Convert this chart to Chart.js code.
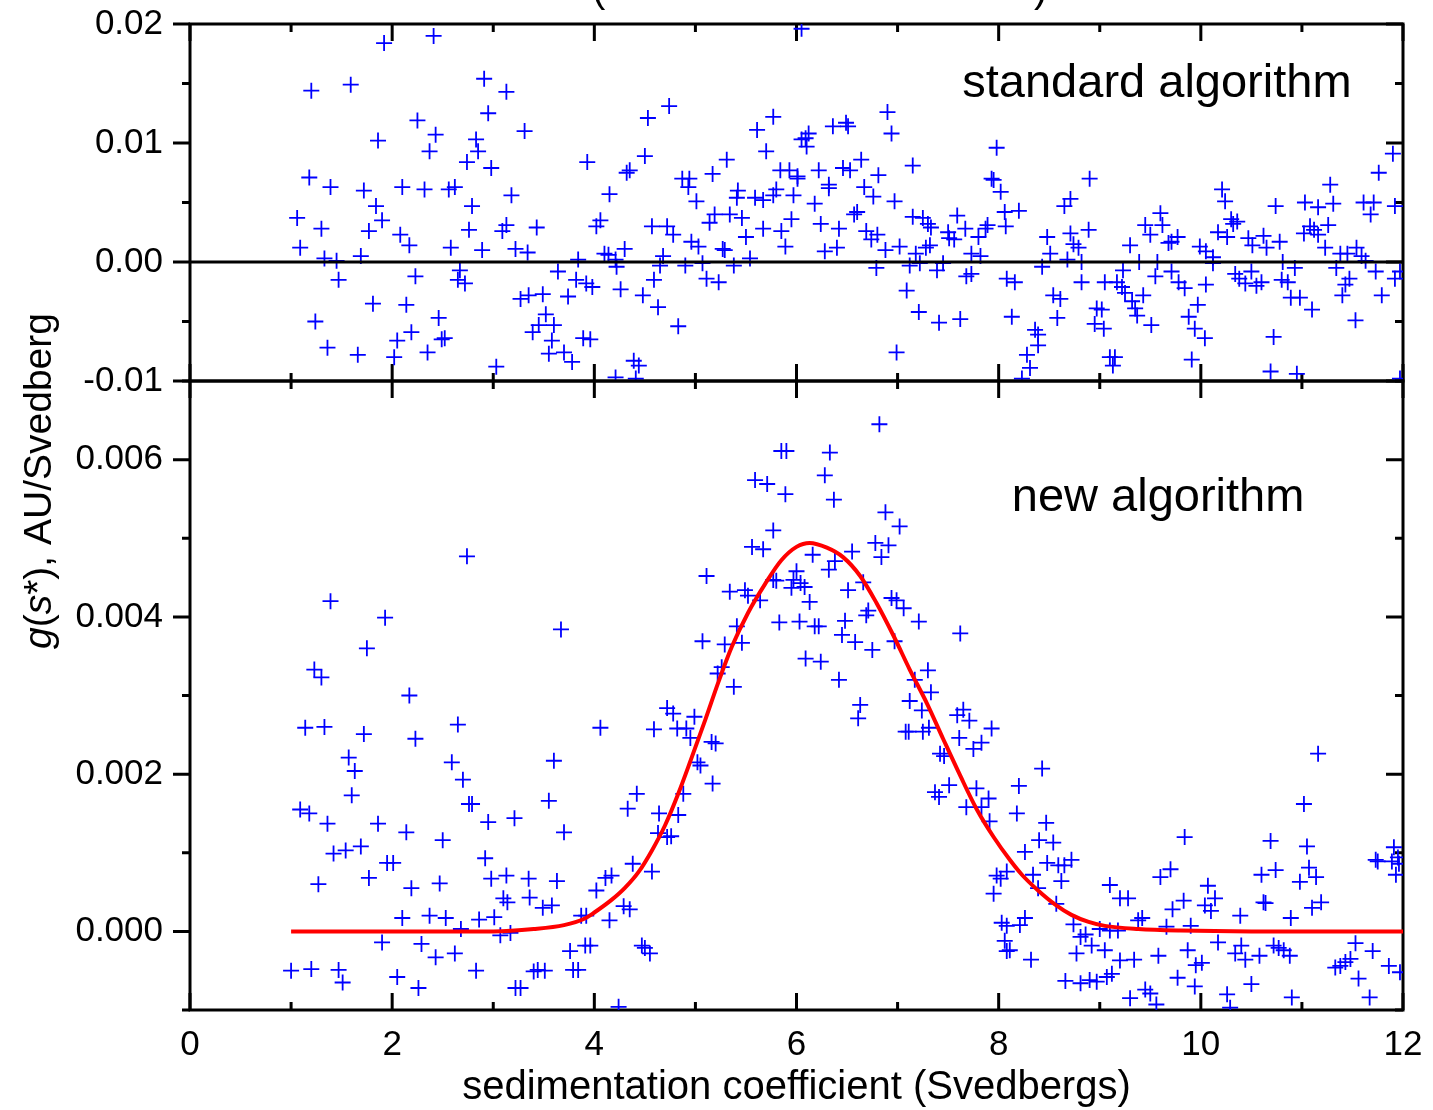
<!DOCTYPE html>
<html>
<head>
<meta charset="utf-8">
<title>g(s*) distributions</title>
<script src="https://cdn.jsdelivr.net/npm/chart.js@4.4.1/dist/chart.umd.min.js"></script>
<style>
  html, body { margin: 0; padding: 0; background: #fff; }
  #wrap { position: relative; width: 1433px; height: 1110px; }
  #wrap canvas { position: absolute; left: 0; top: 0; }
</style>
</head>
<body>
<div id="wrap">
  <canvas id="topChart" width="1433" height="1110"></canvas>
  <canvas id="bottomChart" width="1433" height="1110"></canvas>
</div>
<script>
// sedimentation coefficient ticks (Svedbergs); labels only on even values
const sTicks = [0, 1, 2, 3, 4, 5, 6, 7, 8, 9, 10, 11, 12];

// standard algorithm: g(s*) scatter
const topX = [
  1.92, 2.41, 1.20, 1.59, 2.91, 2.95, 2.25, 2.43, 1.86, 2.37,
  2.83, 2.85, 2.74, 2.98, 1.18, 1.39, 1.72, 2.10, 2.32, 2.56,
  2.62, 1.84, 2.79, 1.06, 1.90, 1.30, 1.77, 2.08, 2.76, 2.17,
  1.09, 2.58, 2.89, 1.33, 1.45, 1.69, 2.67, 1.47, 2.23, 2.65,
  2.72, 1.81, 2.14, 1.24, 2.46, 2.19, 2.05, 2.52, 2.49, 1.36,
  1.66, 2.02, 2.35, 3.03,
  3.13, 3.31, 3.93, 3.18, 4.53, 4.74, 4.50, 4.35, 4.32, 4.15,
  5.61, 5.77, 5.70, 5.31, 5.17, 4.87, 4.94, 4.93, 5.01, 5.84,
  5.93, 6.01, 5.42, 5.41, 5.59, 5.67, 5.77, 5.80, 5.97, 4.06,
  4.02, 3.13, 3.09, 3.43, 4.57, 4.72, 4.78, 5.14, 5.19, 5.34,
  5.46, 5.50, 5.67, 5.85, 5.95, 5.89, 4.96, 5.03, 3.22, 3.34,
  4.30, 4.10, 4.14, 4.21, 3.84, 4.68, 5.27, 5.29, 5.54, 4.65,
  4.90, 5.07, 5.38, 3.64, 4.22, 3.82, 3.92, 3.98, 4.59, 5.11,
  5.23, 4.26, 4.48, 3.27, 3.35, 3.49, 3.74, 4.63, 3.52, 3.45,
  3.60, 3.39, 4.83, 3.58, 3.89, 3.96, 3.55, 3.70, 3.78, 4.39,
  4.44, 4.21, 4.41,
  6.05, 6.90, 6.94, 6.36, 6.49, 6.51, 6.12, 6.09, 6.05, 6.10,
  7.98, 6.01, 6.22, 6.46, 6.53, 6.64, 6.81, 7.15, 6.32, 6.32,
  6.67, 6.76, 6.18, 7.93, 7.95, 8.02, 6.97, 8.90, 8.71, 8.65,
  8.06, 8.20, 6.60, 6.57, 7.15, 7.59, 6.24, 6.42, 7.25, 7.30,
  7.33, 7.89, 7.87, 8.07, 7.50, 7.67, 7.80, 6.69, 6.80, 6.74,
  7.51, 7.56, 7.32, 8.71, 8.89, 8.48, 8.74, 8.79, 6.28, 6.40,
  6.88, 7.02, 7.18, 7.28, 7.73, 7.82, 8.51, 8.68, 8.82, 6.79,
  7.12, 7.22, 7.39, 7.45, 7.68, 7.73, 8.43, 8.08, 8.16, 8.82,
  7.09, 8.54, 8.61, 7.21, 7.41, 7.62, 8.13, 8.58, 8.97, 8.95,
  8.36, 8.39, 8.39, 8.28, 8.31, 6.99, 8.23,
  11.90, 11.76, 10.21, 10.24, 11.28, 10.74, 11.03, 11.16, 11.31, 11.61,
  11.71, 11.68, 11.92, 9.60, 9.45, 9.62, 9.50, 10.30, 10.36, 10.32,
  10.17, 10.26, 9.77, 9.71, 9.68, 9.30, 11.08, 11.02, 11.12, 11.16,
  11.26, 11.23, 10.47, 10.51, 10.62, 10.65, 10.78, 9.99, 10.05, 10.12,
  10.12, 11.38, 11.45, 11.54, 11.59, 11.63, 9.39, 9.57, 10.81, 11.34,
  10.93, 9.23, 9.55, 9.71, 9.78, 9.84, 10.05, 10.34, 10.38, 10.44,
  10.50, 10.55, 10.60, 10.80, 10.86, 10.89, 10.98, 11.10, 11.47, 11.43,
  11.40, 11.73, 11.79, 11.92, 11.97, 11.53, 9.05, 9.17, 9.22, 9.25,
  9.32, 9.43, 9.35, 9.37, 9.51, 9.02, 9.04, 9.88, 9.97, 9.94,
  10.04, 10.72, 9.91, 9.10, 9.15, 9.13, 10.69, 10.95, 11.97
];
const topY = [
  0.0184, 0.0190, 0.0144, 0.0149, 0.0154, 0.0125, 0.0119, 0.0107, 0.0102, 0.0093,
  0.0103, 0.0093, 0.0084, 0.0079, 0.0071, 0.0063, 0.0060, 0.0063, 0.0061, 0.0061,
  0.0063, 0.0047, 0.0047, 0.0037, 0.0035, 0.0028, 0.0026, 0.0023, 0.0027, 0.0014,
  0.0012, 0.0012, 0.0010, 0.0003, 0.0001, 0.0005, -0.0007, -0.0015, -0.0012, -0.0015,
  -0.0018, -0.0035, -0.0036, -0.0050, -0.0047, -0.0059, -0.0066, -0.0064, -0.0065, -0.0072,
  -0.0078, -0.0080, -0.0076, -0.0088,
  0.0143, 0.0110, 0.0084, 0.0056, 0.0121, 0.0131, 0.0089, 0.0077, 0.0075, 0.0057,
  0.0111, 0.0122, 0.0093, 0.0086, 0.0074, 0.0070, 0.0070, 0.0063, 0.0051, 0.0077,
  0.0077, 0.0070, 0.0060, 0.0054, 0.0054, 0.0052, 0.0056, 0.0061, 0.0056, 0.0035,
  0.0030, 0.0031, 0.0026, 0.0029, 0.0030, 0.0030, 0.0023, 0.0033, 0.0040, 0.0040,
  0.0037, 0.0021, 0.0028, 0.0026, 0.0036, 0.0013, 0.0017, 0.0013, 0.0011, 0.0008,
  0.0011, 0.0007, 0.0006, 0.0002, 0.0002, 0.0005, 0.0011, 0.0010, 0.0003, -0.0003,
  -0.0003, -0.0001, -0.0003, -0.0008, -0.0004, -0.0015, -0.0018, -0.0021, -0.0015, -0.0014,
  -0.0017, -0.0023, -0.0028, -0.0031, -0.0028, -0.0027, -0.0029, -0.0038, -0.0044, -0.0053,
  -0.0053, -0.0059, -0.0054, -0.0066, -0.0064, -0.0065, -0.0077, -0.0076, -0.0084, -0.0083,
  -0.0087, -0.0097, -0.0098,
  0.0196, 0.0126, 0.0108, 0.0114, 0.0117, 0.0114, 0.0108, 0.0104, 0.0103, 0.0097,
  0.0096, 0.0072, 0.0077, 0.0079, 0.0077, 0.0086, 0.0073, 0.0081, 0.0065, 0.0062,
  0.0063, 0.0055, 0.0049, 0.0070, 0.0069, 0.0059, 0.0051, 0.0070, 0.0053, 0.0047,
  0.0042, 0.0043, 0.0042, 0.0040, 0.0038, 0.0039, 0.0032, 0.0028, 0.0037, 0.0032,
  0.0029, 0.0031, 0.0028, 0.0030, 0.0025, 0.0028, 0.0021, 0.0026, 0.0023, 0.0019,
  0.0020, 0.0019, 0.0014, 0.0024, 0.0027, 0.0021, 0.0015, 0.0012, 0.0009, 0.0012,
  0.0010, 0.0013, 0.0007, 0.0012, 0.0007, 0.0005, 0.0007, 0.0002, 0.0000, -0.0005,
  -0.0003, -0.0001, -0.0007, -0.0001, -0.0012, -0.0010, -0.0004, -0.0014, -0.0017, -0.0017,
  -0.0024, -0.0028, -0.0031, -0.0042, -0.0051, -0.0048, -0.0046, -0.0047, -0.0039, -0.0052,
  -0.0057, -0.0061, -0.0070, -0.0078, -0.0089, -0.0076, -0.0098,
  0.0091, 0.0075, 0.0061, 0.0051, 0.0065, 0.0047, 0.0050, 0.0046, 0.0049, 0.0050,
  0.0050, 0.0040, 0.0047, 0.0041, 0.0031, 0.0031, 0.0023, 0.0036, 0.0034, 0.0032,
  0.0025, 0.0021, 0.0021, 0.0017, 0.0016, 0.0014, 0.0030, 0.0024, 0.0027, 0.0023,
  0.0031, 0.0012, 0.0020, 0.0014, 0.0022, 0.0012, 0.0017, 0.0013, 0.0009, 0.0004,
  -0.0001, 0.0007, 0.0007, 0.0012, 0.0005, 0.0001, 0.0000, 0.0000, 0.0000, -0.0005,
  -0.0005, -0.0007, -0.0012, -0.0008, -0.0017, -0.0022, -0.0019, -0.0010, -0.0014, -0.0018,
  -0.0008, -0.0020, -0.0017, -0.0015, -0.0017, -0.0030, -0.0030, -0.0040, -0.0014, -0.0019,
  -0.0028, -0.0008, -0.0028, -0.0014, -0.0008, -0.0049, -0.0017, -0.0017, -0.0021, -0.0026,
  -0.0033, -0.0028, -0.0039, -0.0045, -0.0053, -0.0040, -0.0056, -0.0046, -0.0036, -0.0056,
  -0.0064, -0.0063, -0.0082, -0.0080, -0.0080, -0.0087, -0.0092, -0.0094, -0.0098
];

// new algorithm: g(s*) scatter
const botX = [
  2.74, 1.39, 1.93, 1.75, 1.23, 1.30, 2.17, 1.14, 1.33, 1.72,
  2.23, 2.65, 1.57, 1.63, 2.59, 2.70, 1.60, 2.76, 2.79, 1.09,
  1.18, 1.36, 1.86, 2.14, 2.50, 2.95, 3.21, 1.42, 1.54, 1.69,
  1.95, 2.01, 2.92, 1.27, 1.77, 2.19, 2.47, 2.98, 3.13, 3.10,
  3.14, 2.10, 2.37, 2.53, 2.86, 3.01, 2.68, 3.07, 3.17, 1.90,
  2.29, 2.43, 2.62, 1.00, 1.20, 1.47, 1.51, 2.05, 2.26, 2.83,
  3.22,
  5.59, 5.56, 5.11, 5.34, 5.49, 5.52, 5.64, 3.67, 5.07, 5.29,
  5.41, 5.46, 5.26, 5.22, 5.38, 4.72, 4.78, 4.59, 4.82, 4.99,
  4.91, 4.95, 4.06, 5.16, 5.20, 5.02, 5.05, 5.17, 3.60, 3.55,
  3.70, 4.88, 4.42, 4.33, 4.64, 4.83, 4.63, 4.72, 4.76, 4.38,
  4.57, 3.35, 3.63, 3.36, 3.49, 3.58, 4.02, 4.11, 4.17, 3.87,
  3.92, 4.15, 4.29, 4.35, 3.76, 3.91, 3.96, 4.47, 4.50, 4.55,
  3.40, 3.44, 3.51, 3.79, 3.84, 3.27, 4.24,
  6.82, 5.85, 5.90, 6.33, 6.28, 6.37, 5.71, 5.89, 6.88, 7.02,
  5.77, 6.78, 6.91, 6.84, 5.67, 6.16, 6.55, 6.38, 6.32, 6.00,
  5.77, 5.80, 5.97, 6.04, 5.95, 6.08, 6.13, 6.51, 6.66, 6.71,
  6.69, 6.94, 6.99, 7.06, 7.21, 5.83, 6.03, 6.18, 6.22, 6.48,
  6.45, 6.58, 6.75, 6.97, 7.62, 6.09, 6.24, 6.42, 7.30, 7.17,
  7.33, 7.12, 7.24, 6.63, 6.61, 7.59, 7.65, 7.71, 7.93, 7.08,
  7.11, 7.25, 7.31, 7.61, 7.83, 7.75, 7.42, 7.46, 7.51, 7.37,
  7.41, 7.78, 7.90, 7.68, 7.83, 7.91, 7.98, 8.02, 7.95, 8.03,
  8.06, 8.08,
  8.43, 8.20, 8.18, 8.47, 8.40, 8.54, 8.26, 8.48, 8.59, 8.65,
  8.72, 8.34, 8.62, 8.39, 8.08, 9.84, 9.70, 9.60, 9.10, 9.20,
  9.28, 8.57, 9.83, 9.72, 10.07, 10.14, 10.04, 10.10, 10.39, 9.42,
  9.38, 8.26, 8.21, 8.08, 8.74, 8.86, 8.81, 8.92, 9.00, 9.10,
  9.18, 9.66, 9.90, 8.11, 8.32, 8.77, 9.05, 9.20, 9.34, 9.58,
  9.87, 9.95, 10.01, 10.17, 10.34, 10.40, 10.44, 8.66, 8.81, 8.90,
  8.97, 9.07, 9.12, 9.77, 9.94, 9.30, 9.45, 9.50, 9.56, 10.26,
  10.29, 10.50,
  11.16, 11.02, 10.69, 11.05, 11.91, 11.73, 11.75, 11.89, 11.95, 11.96,
  10.60, 10.74, 10.98, 11.07, 11.14, 11.93, 10.62, 10.64, 11.10, 11.19,
  10.89, 10.72, 10.77, 10.82, 10.88, 10.58, 11.53, 11.70, 11.48, 11.43,
  11.38, 11.33, 11.86, 11.56, 11.67, 10.90, 11.97
];
const botY = [
  0.00477, 0.00420, 0.00399, 0.00360, 0.00333, 0.00323, 0.00300, 0.00259, 0.00260, 0.00251,
  0.00245, 0.00263, 0.00221, 0.00204, 0.00215, 0.00193, 0.00173, 0.00162, 0.00162, 0.00155,
  0.00150, 0.00137, 0.00137, 0.00126, 0.00116, 0.00139, 0.00144, 0.00099, 0.00103, 0.00108,
  0.00087, 0.00087, 0.00093, 0.00060, 0.00068, 0.00055, 0.00061, 0.00067, 0.00071, 0.00042,
  0.00037, 0.00017, 0.00020, 0.00017, 0.00015, 0.00018, 0.00003, -0.00005, -0.00002, -0.00014,
  -0.00016, -0.00033, -0.00028, -0.00050, -0.00048, -0.00049, -0.00065, -0.00058, -0.00072, -0.00050,
  -0.00072,
  0.00574, 0.00489, 0.00452, 0.00432, 0.00434, 0.00427, 0.00421, 0.00384, 0.00369, 0.00365,
  0.00388, 0.00367, 0.00336, 0.00328, 0.00311, 0.00284, 0.00277, 0.00257, 0.00258, 0.00273,
  0.00258, 0.00246, 0.00259, 0.00241, 0.00239, 0.00215, 0.00211, 0.00188, 0.00217, 0.00166,
  0.00126, 0.00175, 0.00175, 0.00156, 0.00150, 0.00148, 0.00125, 0.00120, 0.00121, 0.00086,
  0.00076, 0.00067, 0.00064, 0.00043, 0.00030, 0.00033, 0.00052, 0.00068, 0.00071, 0.00020,
  0.00020, 0.00014, 0.00032, 0.00028, -0.00025, -0.00018, -0.00018, -0.00018, -0.00021, -0.00028,
  -0.00051, -0.00049, -0.00050, -0.00049, -0.00049, -0.00072, -0.00096,
  0.00645, 0.00611, 0.00611, 0.00609, 0.00580, 0.00549, 0.00569, 0.00556, 0.00533, 0.00515,
  0.00510, 0.00494, 0.00491, 0.00476, 0.00486, 0.00479, 0.00483, 0.00471, 0.00460, 0.00458,
  0.00447, 0.00446, 0.00447, 0.00443, 0.00437, 0.00438, 0.00419, 0.00434, 0.00444, 0.00408,
  0.00402, 0.00424, 0.00421, 0.00411, 0.00394, 0.00393, 0.00394, 0.00388, 0.00388, 0.00395,
  0.00377, 0.00368, 0.00358, 0.00369, 0.00379, 0.00347, 0.00343, 0.00320, 0.00332, 0.00320,
  0.00304, 0.00293, 0.00281, 0.00288, 0.00271, 0.00275, 0.00282, 0.00268, 0.00258, 0.00254,
  0.00254, 0.00254, 0.00259, 0.00246, 0.00240, 0.00232, 0.00226, 0.00223, 0.00186, 0.00177,
  0.00171, 0.00182, 0.00169, 0.00158, 0.00158, 0.00140, 0.00071, 0.00067, 0.00048, 0.00011,
  -0.00012, -0.00025,
  0.00207, 0.00185, 0.00150, 0.00138, 0.00116, 0.00113, 0.00101, 0.00087, 0.00084, 0.00084,
  0.00091, 0.00072, 0.00064, 0.00055, 0.00076, 0.00120, 0.00079, 0.00069, 0.00059, 0.00042,
  0.00042, 0.00035, 0.00039, 0.00028, 0.00058, 0.00042, 0.00033, 0.00026, 0.00020, 0.00017,
  0.00014, 0.00017, 0.00008, 0.00007, 0.00009, -0.00004, -0.00007, -0.00018, 0.00003, 0.00001,
  0.00001, 0.00006, 0.00007, -0.00024, -0.00036, -0.00028, -0.00024, -0.00037, -0.00036, -0.00031,
  -0.00024, -0.00043, -0.00040, -0.00014, -0.00028, -0.00018, -0.00036, -0.00063, -0.00066, -0.00062,
  -0.00064, -0.00058, -0.00054, -0.00059, -0.00070, -0.00085, -0.00074, -0.00079, -0.00093, -0.00080,
  -0.00097, -0.00067,
  0.00226, 0.00162, 0.00115, 0.00108, 0.00107, 0.00091, 0.00089, 0.00089, 0.00094, 0.00086,
  0.00072, 0.00078, 0.00063, 0.00081, 0.00069, 0.00072, 0.00037, 0.00036, 0.00030, 0.00037,
  0.00017, -0.00018, -0.00021, -0.00024, -0.00031, -0.00031, -0.00015, -0.00025, -0.00035, -0.00039,
  -0.00044, -0.00046, -0.00044, -0.00060, -0.00084, -0.00084, -0.00052
];

// fitted distribution through the new-algorithm points
const fitX = [1.0, 2.0, 3.0, 3.4, 3.7, 3.9, 4.0, 4.17, 4.3, 4.44, 4.57, 4.7, 4.83, 4.96,
  5.1, 5.23, 5.36, 5.52, 5.69, 5.85, 6.0, 6.13, 6.3, 6.46, 6.63, 6.79, 6.96, 7.12, 7.29,
  7.45, 7.62, 7.78, 7.95, 8.11, 8.23, 8.39, 8.56, 8.72, 8.89, 9.05, 9.38, 9.8, 10.5, 11.5, 12.0];
const fitY = [0, 0, 0, 0.00003, 0.00008, 0.00016, 0.00024, 0.00040, 0.00055, 0.00076,
  0.00103, 0.00135, 0.00175, 0.00220, 0.00270, 0.00318, 0.00362, 0.00405, 0.00442, 0.00472,
  0.00489, 0.00494, 0.00488, 0.00476, 0.00452, 0.00418, 0.00376, 0.00333, 0.00290, 0.00245,
  0.00198, 0.00156, 0.00120, 0.00091, 0.00072, 0.00052, 0.00034, 0.00021, 0.00012, 0.00007,
  0.00003, 0.00001, 0, 0, 0];

// baseline of the upper panel
const zeroX = [0, 12];
const zeroY = [0, 0];

const FONT = '"Liberation Sans", Arial, Helvetica, sans-serif';
const BLUE = 'rgb(0,0,255)';

const toPoints = (xs, ys) => xs.map((x, i) => ({ x, y: ys[i] }));
const isMajor = (v, step) => Math.abs(v / step - Math.round(v / step)) < 1e-6;
const fmt = (v, d) => (Math.abs(v) < 1e-12 ? 0 : v).toFixed(d);

// frame and tick marks go under the data (outward on the left, inward elsewhere);
// the in-plot text goes on top
function makeDecor(cfg) {
  return {
    id: 'decor',
    beforeDatasetsDraw(chart) {
      const { ctx, chartArea: a, scales: { x, y } } = chart;
      ctx.save();
      ctx.strokeStyle = '#000';
      ctx.lineWidth = 3;
      ctx.strokeRect(a.left, a.top, a.right - a.left, a.bottom - a.top);

      ctx.beginPath();
      sTicks.forEach(v => {
        const px = x.getPixelForValue(v);
        const len = v % 2 === 0 ? 17 : 8;
        ctx.moveTo(px, a.top); ctx.lineTo(px, a.top + len);
        ctx.moveTo(px, a.bottom); ctx.lineTo(px, a.bottom - len);
      });
      y.ticks.forEach(t => {
        const py = y.getPixelForValue(t.value);
        const len = isMajor(t.value, cfg.yMajor) ? 17 : 8;
        ctx.moveTo(a.left - len, py); ctx.lineTo(a.left, py);
        ctx.moveTo(a.right, py); ctx.lineTo(a.right - len, py);
      });
      ctx.stroke();
      ctx.restore();
    },
    afterDatasetsDraw(chart) {
      const { ctx, scales: { x, y } } = chart;
      ctx.save();
      ctx.fillStyle = '#000';
      ctx.textAlign = 'left';
      ctx.textBaseline = 'alphabetic';
      ctx.font = '47px ' + FONT;
      ctx.fillText(cfg.label.text, x.getPixelForValue(cfg.label.x), y.getPixelForValue(cfg.label.y));

      if (cfg.caption) {
        // brackets of the figure caption, cut by the top edge
        ctx.font = '40px ' + FONT;
        ctx.fillText('(', 592, 2);
        ctx.fillText(')', 1034, 2);
      }

      if (cfg.yTitle) {
        const parts = [['g', true], ['(', false], ['s', true], ['*), AU/Svedberg', false]];
        ctx.translate(40, 481);
        ctx.rotate(-Math.PI / 2);
        ctx.textBaseline = 'middle';
        const fontOf = it => (it ? 'italic ' : '') + '39px ' + FONT;
        let total = 0;
        parts.forEach(([s, it]) => { ctx.font = fontOf(it); total += ctx.measureText(s).width; });
        let cx = -total / 2;
        parts.forEach(([s, it]) => {
          ctx.font = fontOf(it);
          ctx.fillText(s, cx, 0);
          cx += ctx.measureText(s).width;
        });
      }
      ctx.restore();
    }
  };
}

const tickFont = { family: FONT, size: 35 };

// grid lines stay hidden; the tick length only spaces the labels off the frame
function yScale(min, max, step, major, digits) {
  return {
    type: 'linear',
    min, max,
    afterFit: s => { s.width = 190; },
    grid: { display: false, drawTicks: true, tickLength: 25 },
    border: { display: false },
    ticks: {
      stepSize: step,
      maxTicksLimit: 30,
      padding: 2,
      color: '#000',
      font: tickFont,
      callback: v => (isMajor(v, major) ? fmt(v, digits) : '')
    }
  };
}

const common = {
  responsive: false,
  animation: false,
  events: [],
  plugins: { legend: { display: false }, tooltip: { enabled: false } }
};

const crossSet = pts => ({
  data: pts,
  showLine: false,
  pointStyle: 'cross',
  pointRadius: 8,
  pointHoverRadius: 8,
  pointBorderWidth: 1.8,
  borderColor: BLUE,
  backgroundColor: BLUE,
  clip: 0,
  order: 2
});

new Chart(document.getElementById('topChart'), {
  type: 'scatter',
  data: {
    datasets: [
      crossSet(toPoints(topX, topY)),
      {
        data: toPoints(zeroX, zeroY),
        showLine: true,
        borderColor: '#000',
        borderWidth: 3,
        pointRadius: 0,
        clip: 0,
        order: 1
      }
    ]
  },
  options: {
    ...common,
    layout: { padding: { top: 24, right: 30, bottom: 729, left: 0 } },
    scales: {
      x: { type: 'linear', min: 0, max: 12, display: false },
      y: yScale(-0.01, 0.02, 0.005, 0.01, 2)
    }
  },
  plugins: [makeDecor({
    yMajor: 0.01,
    label: { text: 'standard algorithm', x: 7.64, y: 0.01387 },
    caption: true
  })]
});

new Chart(document.getElementById('bottomChart'), {
  type: 'scatter',
  data: {
    datasets: [
      crossSet(toPoints(botX, botY)),
      {
        data: toPoints(fitX, fitY),
        showLine: true,
        borderColor: '#ff0000',
        borderWidth: 4,
        pointRadius: 0,
        cubicInterpolationMode: 'monotone',
        clip: 0,
        order: 1
      }
    ]
  },
  options: {
    ...common,
    layout: { padding: { top: 381, right: 30, bottom: 0, left: 0 } },
    scales: {
      x: {
        type: 'linear',
        min: 0,
        max: 12,
        afterFit: s => { s.height = 100; },
        grid: { display: false, drawTicks: true, tickLength: 12 },
        border: { display: false },
        ticks: {
          stepSize: 1,
          autoSkip: false,
          maxRotation: 0,
          padding: 2,
          color: '#000',
          font: tickFont,
          callback: v => (Math.round(v) % 2 === 0 ? String(Math.round(v)) : '')
        },
        title: {
          display: true,
          text: 'sedimentation coefficient (Svedbergs)',
          color: '#000',
          font: { family: FONT, size: 40, lineHeight: 1 },
          padding: { top: 0, bottom: 2 }
        }
      },
      y: yScale(-0.001, 0.007, 0.001, 0.002, 3)
    }
  },
  plugins: [makeDecor({
    yMajor: 0.002,
    label: { text: 'new algorithm', x: 8.13, y: 0.00535 },
    yTitle: true
  })]
});
</script>
</body>
</html>
